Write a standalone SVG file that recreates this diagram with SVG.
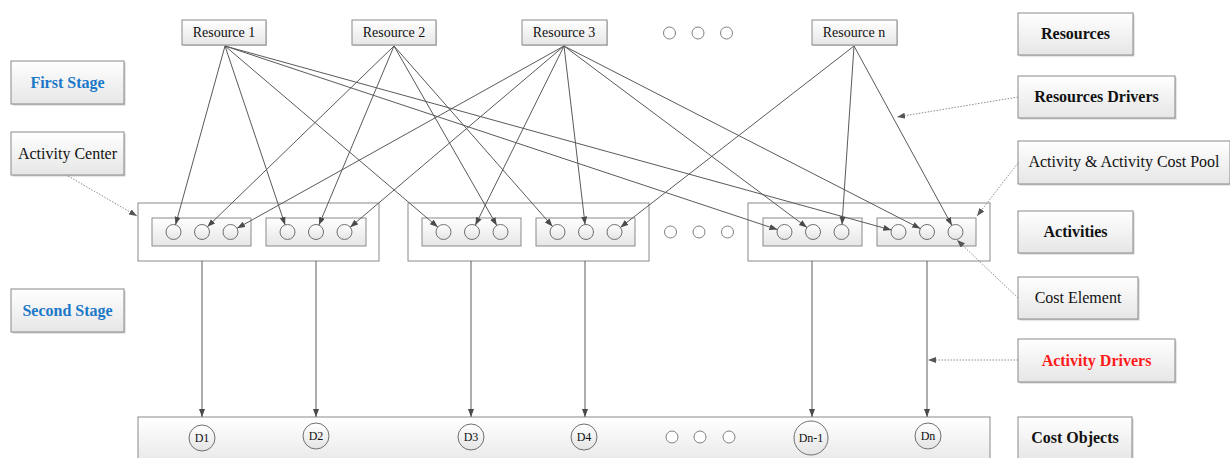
<svg xmlns="http://www.w3.org/2000/svg" width="1230" height="458" viewBox="0 0 1230 458">
  <defs>
    <linearGradient id="boxFill" x1="0" y1="0" x2="0" y2="1">
      <stop offset="0" stop-color="#ffffff"/>
      <stop offset="1" stop-color="#e6e6e6"/>
    </linearGradient>
    <linearGradient id="ballFill" x1="0" y1="0" x2="0" y2="1">
      <stop offset="0" stop-color="#ffffff"/>
      <stop offset="1" stop-color="#e4e4e4"/>
    </linearGradient>
    <marker id="arrow" markerUnits="userSpaceOnUse" markerWidth="9" markerHeight="7" refX="8" refY="3" orient="auto" viewBox="0 0 9 7">
      <path d="M0,0 L8,3 L0,6 z" fill="#4a4a4a"/>
    </marker>
    <marker id="arrowDot" markerUnits="userSpaceOnUse" markerWidth="9" markerHeight="7" refX="8" refY="3" orient="auto" viewBox="0 0 9 7">
      <path d="M0,0 L8,3 L0,6 z" fill="#555"/>
    </marker>
  </defs>
  <style>
    .shadow { fill: #d0d0d0; }
    .box { fill: url(#boxFill); stroke: #8a8a8a; stroke-width: 1; }
    .outer { fill: #ffffff; stroke: #8a8a8a; stroke-width: 1; }
    .inner { fill: url(#boxFill); stroke: #8a8a8a; stroke-width: 1; }
    .ball { fill: url(#ballFill); stroke: #707070; stroke-width: 1; }
    .dot { fill: #ffffff; stroke: #808080; stroke-width: 1; }
    .link { stroke: #5a5a5a; stroke-width: 1; fill: none; marker-end: url(#arrow); }
    .note { stroke: #8c8c8c; stroke-width: 1; stroke-dasharray: 1.5 1.5; fill: none; marker-end: url(#arrowDot); }
    .t { text-anchor: middle; fill: #111; }
    .res { font-size: 14px; }
    .lbl { font-size: 16px; }
    .bold { font-size: 16px; font-weight: bold; }
    .stage { font-size: 16px; font-weight: bold; fill: #1b78c8; }
    .red { font-size: 16px; font-weight: bold; fill: #ff1a1a; }
    .obj { font-size: 12px; }
  </style>

  <g font-family="'Liberation Serif', 'DejaVu Serif', serif">
  <!-- Resource nodes -->
  <g id="resource-1">
    <rect class="shadow" x="183" y="21" width="84" height="25"/>
    <rect class="box" x="182" y="20" width="84" height="25"/>
    <text class="t res" x="224" y="37">Resource 1</text>
  </g>
  <g id="resource-2">
    <rect class="shadow" x="353" y="21" width="84" height="25"/>
    <rect class="box" x="352" y="20" width="84" height="25"/>
    <text class="t res" x="394" y="37">Resource 2</text>
  </g>
  <g id="resource-3">
    <rect class="shadow" x="523" y="21" width="85" height="25"/>
    <rect class="box" x="522" y="20" width="85" height="25"/>
    <text class="t res" x="564" y="37">Resource 3</text>
  </g>
  <g id="resource-more">
    <circle class="dot" cx="669.5" cy="33" r="6"/>
    <circle class="dot" cx="698" cy="33" r="6"/>
    <circle class="dot" cx="726.5" cy="33" r="6"/>
  </g>
  <g id="resource-n">
    <rect class="shadow" x="813" y="21" width="85" height="25"/>
    <rect class="box" x="812" y="20" width="85" height="25"/>
    <text class="t res" x="854" y="37">Resource n</text>
  </g>

  <!-- Left legend -->
  <g id="first-stage">
    <rect class="shadow" x="12.5" y="62.5" width="113" height="43"/>
    <rect class="box" x="11" y="61" width="113" height="43"/>
    <text class="t stage" x="67.5" y="88">First Stage</text>
  </g>
  <g id="activity-center">
    <rect class="shadow" x="12.5" y="133.5" width="113" height="43"/>
    <rect class="box" x="11" y="132" width="113" height="43"/>
    <text class="t lbl" x="67.5" y="159">Activity Center</text>
  </g>
  <g id="second-stage">
    <rect class="shadow" x="12.5" y="290.5" width="113" height="43"/>
    <rect class="box" x="11" y="289" width="113" height="43"/>
    <text class="t stage" x="67.5" y="316">Second Stage</text>
  </g>

  <!-- Right legend -->
  <g id="resources">
    <rect class="shadow" x="1019.5" y="14.5" width="115" height="42"/>
    <rect class="box" x="1018" y="13" width="115" height="42"/>
    <text class="t bold" x="1075.5" y="39">Resources</text>
  </g>
  <g id="resources-drivers">
    <rect class="shadow" x="1019.5" y="77.5" width="157" height="42"/>
    <rect class="box" x="1018" y="76" width="157" height="42"/>
    <text class="t bold" x="1096.5" y="102">Resources Drivers</text>
  </g>
  <g id="activity-cost-pool">
    <rect class="shadow" x="1019.5" y="142.5" width="212" height="43"/>
    <rect class="box" x="1018" y="141" width="212" height="43"/>
    <text class="t lbl" x="1124" y="167">Activity &amp; Activity Cost Pool</text>
  </g>
  <g id="activities">
    <rect class="shadow" x="1019.5" y="212.5" width="115" height="42"/>
    <rect class="box" x="1018" y="211" width="115" height="42"/>
    <text class="t bold" x="1075.5" y="237">Activities</text>
  </g>
  <g id="cost-element">
    <rect class="shadow" x="1019.5" y="278.5" width="120" height="42"/>
    <rect class="box" x="1018" y="277" width="120" height="42"/>
    <text class="t lbl" x="1078" y="303">Cost Element</text>
  </g>
  <g id="activity-drivers">
    <rect class="shadow" x="1019.5" y="340.5" width="157" height="43"/>
    <rect class="box" x="1018" y="339" width="157" height="43"/>
    <text class="t red" x="1096.5" y="366">Activity Drivers</text>
  </g>
  <g id="cost-objects-label">
    <rect class="shadow" x="1019.5" y="418.5" width="114" height="44"/>
    <rect class="box" x="1018" y="417" width="114" height="44"/>
    <text class="t bold" x="1075" y="443">Cost Objects</text>
  </g>

  <!-- Activity centers -->
  <g id="activity-center-1">
    <rect class="outer" x="138" y="203" width="241" height="58"/>
    <rect class="inner" x="152" y="218" width="99" height="28"/>
    <rect class="inner" x="266" y="218" width="100" height="28"/>
    <circle class="ball" cx="173.5" cy="232" r="7.5"/>
    <circle class="ball" cx="202" cy="232" r="7.5"/>
    <circle class="ball" cx="230.5" cy="232" r="7.5"/>
    <circle class="ball" cx="287.5" cy="232" r="7.5"/>
    <circle class="ball" cx="316" cy="232" r="7.5"/>
    <circle class="ball" cx="344.5" cy="232" r="7.5"/>
  </g>
  <g id="activity-center-2">
    <rect class="outer" x="408" y="203" width="241" height="58"/>
    <rect class="inner" x="422" y="218" width="99" height="28"/>
    <rect class="inner" x="536" y="218" width="99" height="28"/>
    <circle class="ball" cx="443.5" cy="232" r="7.5"/>
    <circle class="ball" cx="472" cy="232" r="7.5"/>
    <circle class="ball" cx="500.5" cy="232" r="7.5"/>
    <circle class="ball" cx="557.5" cy="232" r="7.5"/>
    <circle class="ball" cx="586" cy="232" r="7.5"/>
    <circle class="ball" cx="614.5" cy="232" r="7.5"/>
  </g>
  <g id="activity-more">
    <circle class="dot" cx="670.5" cy="232" r="6"/>
    <circle class="dot" cx="699" cy="232" r="6"/>
    <circle class="dot" cx="727.5" cy="232" r="6"/>
  </g>
  <g id="activity-center-n">
    <rect class="outer" x="748" y="203" width="242" height="58"/>
    <rect class="inner" x="763" y="218" width="99" height="28"/>
    <rect class="inner" x="877" y="218" width="99" height="28"/>
    <circle class="ball" cx="784.5" cy="232" r="7.5"/>
    <circle class="ball" cx="813" cy="232" r="7.5"/>
    <circle class="ball" cx="841.5" cy="232" r="7.5"/>
    <circle class="ball" cx="898.5" cy="232" r="7.5"/>
    <circle class="ball" cx="927" cy="232" r="7.5"/>
    <circle class="ball" cx="955.5" cy="232" r="7.5"/>
  </g>

  <!-- Cost objects -->
  <g id="cost-objects">
    <rect class="box" x="138" y="417" width="852" height="50"/>
    <circle class="ball" cx="202" cy="438" r="13"/>
    <text class="t obj" x="202" y="442">D1</text>
    <circle class="ball" cx="316" cy="436" r="13"/>
    <text class="t obj" x="316" y="440">D2</text>
    <circle class="ball" cx="471" cy="437" r="13"/>
    <text class="t obj" x="471" y="441">D3</text>
    <circle class="ball" cx="584" cy="437" r="13"/>
    <text class="t obj" x="584" y="441">D4</text>
    <circle class="dot" cx="672" cy="437" r="6"/>
    <circle class="dot" cx="700" cy="437" r="6"/>
    <circle class="dot" cx="729" cy="437" r="6"/>
    <circle class="ball" cx="811" cy="438" r="17"/>
    <text class="t obj" x="811" y="442">Dn-1</text>
    <circle class="ball" cx="928" cy="436" r="13"/>
    <text class="t obj" x="928" y="440">Dn</text>
  </g>
  </g>

  <!-- Connectors -->
  <g id="connectors">
    <!-- resource drivers: Resource 1 -->
    <line class="link" x1="225" y1="46" x2="175.5" y2="224.8"/>
    <line class="link" x1="225" y1="46" x2="285.1" y2="224.9"/>
    <line class="link" x1="225" y1="46" x2="437.8" y2="227.1"/>
    <line class="link" x1="225" y1="46" x2="777.4" y2="229.6"/>
    <line class="link" x1="225" y1="46" x2="891.3" y2="230.0"/>
    <!-- Resource 2 -->
    <line class="link" x1="394" y1="46" x2="207.4" y2="226.8"/>
    <line class="link" x1="394" y1="46" x2="318.9" y2="225.1"/>
    <line class="link" x1="394" y1="46" x2="496.8" y2="225.5"/>
    <line class="link" x1="394" y1="46" x2="552.5" y2="226.4"/>
    <!-- Resource 3 -->
    <line class="link" x1="564" y1="46" x2="237.1" y2="228.3"/>
    <line class="link" x1="564" y1="46" x2="350.2" y2="227.2"/>
    <line class="link" x1="564" y1="46" x2="475.3" y2="225.3"/>
    <line class="link" x1="564" y1="46" x2="585.1" y2="224.6"/>
    <line class="link" x1="564" y1="46" x2="807.0" y2="227.5"/>
    <line class="link" x1="564" y1="46" x2="920.3" y2="228.6"/>
    <!-- Resource n -->
    <line class="link" x1="854" y1="46" x2="620.4" y2="227.4"/>
    <line class="link" x1="854" y1="46" x2="842.0" y2="224.5"/>
    <line class="link" x1="854" y1="46" x2="951.9" y2="225.4"/>

    <!-- activity drivers -->
    <line class="link" x1="202" y1="261" x2="202" y2="417"/>
    <line class="link" x1="316" y1="261" x2="316" y2="417"/>
    <line class="link" x1="471" y1="261" x2="471" y2="417"/>
    <line class="link" x1="585" y1="261" x2="585" y2="417"/>
    <line class="link" x1="812" y1="261" x2="812" y2="417"/>
    <line class="link" x1="927" y1="261" x2="927" y2="417"/>

    <!-- legend pointers -->
    <line class="note" x1="68" y1="176" x2="137" y2="216"/>
    <line class="note" x1="1018" y1="97" x2="897" y2="117"/>
    <line class="note" x1="1018" y1="163" x2="977" y2="216"/>
    <line class="note" x1="1018" y1="298" x2="957" y2="240"/>
    <line class="note" x1="1018" y1="360" x2="928" y2="360"/>
  </g>
</svg>
